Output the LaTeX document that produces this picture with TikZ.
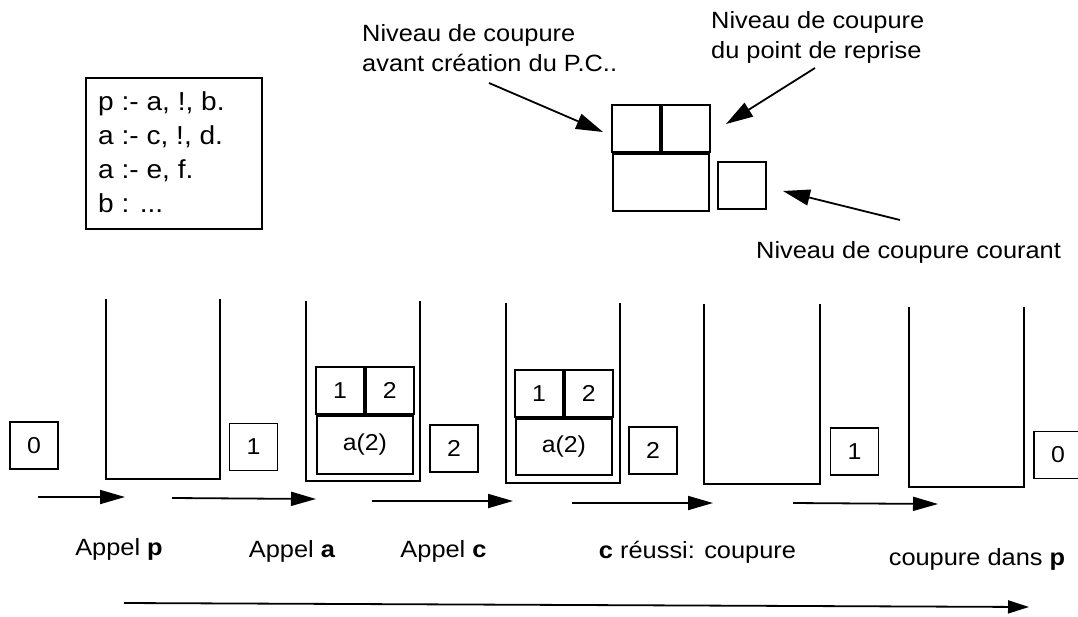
\documentclass[tikz,border=0pt]{standalone}
\usepackage{fontspec}
\setmainfont{Liberation Sans}[FakeStretch=1.08]
\usetikzlibrary{arrows.meta,positioning}
\tikzstyle{cell}=[draw, line width=1.8pt, minimum width=48pt,
minimum height=47pt, inner sep=0pt, font=\fontsize{23}{27}\selectfont]
\tikzstyle{widecell}=[cell, minimum width=96pt, minimum height=57pt]
\tikzstyle{well}=[line width=1.6pt, line join=miter]
\tikzstyle{flow}=[-{Triangle[length=25pt,width=14pt]}, line width=1.8pt]
\tikzstyle{pointer}=[-{Triangle[length=27pt,width=16pt]}, line width=1.8pt]
\tikzstyle{lbl}=[inner sep=0pt, font=\fontsize{23.5}{29.5}\selectfont]

\begin{document}
\begin{tikzpicture}[x=1pt,y=-1pt]
  \useasboundingbox (0,0) rectangle (1078,616);
  % Program (base anchor = last line)
  \node[draw, line width=1.8pt, minimum width=176pt, minimum height=151pt,
    inner sep=0pt, anchor=north west] (prog) at (85,77) {};
  \node[lbl, anchor=base west, align=left, font=\fontsize{26}{34}\selectfont]
    (clauses) at (98,212) {p :- a, !, b.\\a :- c, !, d.\\a :- e, f.\\b : ...};
  % Legend
  \node[cell] (pc1) at (636,128.5) {};
  \node[cell, right=0pt of pc1] (pc2) {};
  \node[widecell, below=0pt of pc1.south east] (pc3) {};
  \node[cell, anchor=south west] (cur) at (717,210) {};
  \node[lbl, anchor=base west, align=left] (before) at (362,71)
    {Niveau de coupure\\avant création du P.C..};
  \node[lbl, anchor=base west, align=left] (resume) at (711,58)
    {Niveau de coupure\\du point de reprise};
  \node[lbl, anchor=base west] (current) at (756,258)
    {Niveau de coupure courant};
  \coordinate (before tail) at (489,83);
  \coordinate (before tip) at (603,132);
  \coordinate (resume tail) at (815,68);
  \coordinate (resume tip) at (726,124);
  \coordinate (current tail) at (900,220);
  \coordinate (current tip) at (783,191);
  \draw[pointer] (before tail) -- (before tip);
  \draw[pointer] (resume tail) -- (resume tip);
  \draw[pointer] (current tail) -- (current tip);
  % Stacks
  \draw[well] (106,299) |- (220,479) -- (220,299);
  \draw[well] (306,301) |- (420,481) -- (420,301);
  \draw[well] (506,303) |- (620,483) -- (620,303);
  \draw[well] (704,304) |- (820,484) -- (820,304);
  \draw[well] (909,307) |- (1024,487) -- (1024,307);
  % Choice points
  \node[cell] (cpa1) at (340,390.5) {1};
  \node[cell, right=0pt of cpa1] (cpa2) {2};
  \node[widecell, minimum height=58pt, below=0pt of cpa1.south east] (cpa3) {a(2)};
  \node[cell] (cpc1) at (539,393.5) {1};
  \node[cell, right=0pt of cpc1] (cpc2) {2};
  \node[widecell, minimum height=56pt, below=0pt of cpc1.south east] (cpc3) {a(2)};
  % Current levels
  \node[cell] (lvl0) at (34,445.5) {0};
  \node[cell] (lvlp) at (253.5,447) {1};
  \node[cell] (lvla) at (454,448.5) {2};
  \node[cell] (lvlc) at (653,450.5) {2};
  \node[cell] (lvlcut) at (854.5,451.5) {1};
  \node[cell] (lvlend) at (1058,455) {0};
  % Steps
  \coordinate (s0) at (38,497);   \coordinate (t0) at (125,497);
  \coordinate (s1) at (172,498);  \coordinate (t1) at (316,499);
  \coordinate (s2) at (372,501);  \coordinate (t2) at (513,501);
  \coordinate (s3) at (572,503);  \coordinate (t3) at (713,503);
  \coordinate (s4) at (793,503);  \coordinate (t4) at (938,504);
  \draw[flow] (s0) -- (t0);
  \draw[flow] (s1) -- (t1);
  \draw[flow] (s2) -- (t2);
  \draw[flow] (s3) -- (t3);
  \draw[flow] (s4) -- (t4);
  \node[lbl, anchor=base] (callp) at (119,555) {Appel \textbf{p}};
  \node[lbl, anchor=base] (calla) at (292,557) {Appel \textbf{a}};
  \node[lbl, anchor=base] (callc) at (443.5,557) {Appel \textbf{c}};
  \node[lbl, anchor=base] (cutc) at (697.5,558) {\textbf{c} réussi: coupure};
  \node[lbl, anchor=base] (cutp) at (977,565) {coupure dans \textbf{p}};
  % Time
  \coordinate (time start) at (124,603);
  \coordinate (time end) at (1029,607);
  \draw[-{Triangle[length=21pt,width=13pt]}, line width=1.8pt]
    (time start) -- (time end);
\end{tikzpicture}
\end{document}
